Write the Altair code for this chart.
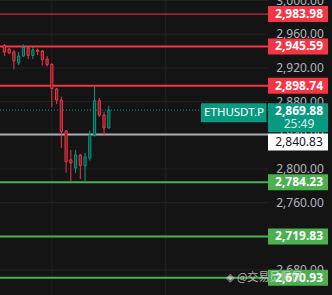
import altair as alt
import pandas as pd

# ---- data ----
t = list(range(23))
opens = [2946.7, 2942.5, 2938.9, 2925.9, 2934.2, 2943.7, 2934.8, 2941.3, 2940.1, 2930.6, 2924.1, 2895.0,
         2881.9, 2845.1, 2810.7, 2801.2, 2816.6, 2803.6, 2813.1, 2840.4, 2881.1, 2864.1, 2848.7]
highs = [2948.4, 2943.7, 2941.3, 2938.9, 2947.9, 2944.9, 2944.9, 2943.1, 2941.3, 2934.2, 2925.9, 2896.2,
         2885.9, 2846.3, 2822.6, 2822.6, 2817.8, 2819.0, 2845.5, 2897.7, 2884.3, 2868.0, 2874.8]
lows = [2934.2, 2936.6, 2918.2, 2923.5, 2933.0, 2930.6, 2930.6, 2935.4, 2922.9, 2921.7, 2873.6, 2877.2,
        2824.9, 2795.6, 2784.9, 2795.2, 2788.1, 2784.9, 2809.9, 2838.4, 2861.7, 2839.2, 2848.1]
closes = [2938.9, 2937.8, 2928.3, 2934.2, 2944.3, 2934.8, 2941.3, 2939.5, 2930.0, 2924.1, 2895.6, 2881.9,
          2844.3, 2808.7, 2807.1, 2816.6, 2804.2, 2814.3, 2840.4, 2881.1, 2864.1, 2848.7, 2869.88]

tick_values = [3000, 2960, 2920, 2880, 2840, 2800, 2760, 2720, 2680]
vgrid_t = [10, 34]

red_levels = [2983.98, 2945.59, 2898.74]
green_levels = [2784.23, 2719.83, 2670.93]
grey_level = [2840.83]
current_price = [2869.88]
symbol = "ETHUSDT.P"
countdown = "25:49"
watermark = "◈ @交易员佩佩"

# ---- styling ----
BG = "#141414"
GRID = "#232323"
RED = "#f23645"
RED_FILL = "#6e1e26"
GREEN_C = "#089981"
GREEN_FILL = "#06463c"
LVL_GREEN = "#4caf50"
TEAL = "#089981"
TXT = "#b2b5be"
FONT = "Noto Sans"

W, H = 332, 295
PLOT_R = 268

X = alt.Scale(domain=[0.12, 68.01], nice=False, zero=False)
Y = alt.Scale(domain=[2650.3, 3000.7], nice=False, zero=False)

candles = pd.DataFrame(dict(t=t, open=opens, high=highs, low=lows, close=closes))
ticks = pd.DataFrame(dict(price=tick_values))
vgrid = pd.DataFrame(dict(t=vgrid_t))
reds = pd.DataFrame(dict(price=red_levels))
greens = pd.DataFrame(dict(price=green_levels))
grey = pd.DataFrame(dict(price=grey_level))
cur = pd.DataFrame(dict(price=current_price))

yq = lambda: alt.Y("price:Q", scale=Y, axis=None)

hgrid = alt.Chart(ticks).mark_rule(color=GRID, strokeWidth=1).encode(
    y=yq(), x=alt.value(0), x2=alt.value(PLOT_R))
vg = alt.Chart(vgrid).mark_rule(color=GRID, strokeWidth=1).encode(
    x=alt.X("t:Q", scale=X, axis=None), y=alt.value(0), y2=alt.value(H))
tick_text = alt.Chart(ticks).mark_text(color=TXT, fontSize=12, font=FONT, align="center", baseline="middle").encode(
    y=yq(), x=alt.value(300), text=alt.Text("price:Q", format=",.2f"))

red_lines = alt.Chart(reds).mark_rule(color=RED).encode(
    y=yq(), x=alt.value(0), x2=alt.value(PLOT_R),
    strokeWidth=alt.condition("datum.price > 2970", alt.value(1), alt.value(2)))
green_lines = alt.Chart(greens).mark_rule(color=LVL_GREEN, strokeWidth=2).encode(
    y=yq(), x=alt.value(0), x2=alt.value(PLOT_R))
grey_line = alt.Chart(grey).mark_rule(color="#a9acb3", strokeWidth=2).encode(
    y=yq(), x=alt.value(0), x2=alt.value(PLOT_R))
cur_line = alt.Chart(cur).mark_rule(color=TEAL, strokeWidth=1, strokeDash=[1, 2]).encode(
    y=yq(), x=alt.value(0), x2=alt.value(PLOT_R))

up = "datum.close >= datum.open"
wicks = alt.Chart(candles).mark_rule(strokeWidth=1).encode(
    x=alt.X("t:Q", scale=X, axis=None),
    y=alt.Y("low:Q", scale=Y, axis=None), y2="high:Q",
    color=alt.condition(up, alt.value(GREEN_C), alt.value(RED)))
bodies = alt.Chart(candles).mark_bar(size=2.2, strokeWidth=1).encode(
    x=alt.X("t:Q", scale=X, axis=None),
    y=alt.Y("open:Q", scale=Y, axis=None), y2="close:Q",
    fill=alt.condition(up, alt.value(GREEN_FILL), alt.value(RED_FILL)),
    stroke=alt.condition(up, alt.value(GREEN_C), alt.value(RED)))

def box(df, color, sw, yoff=0):
    return alt.Chart(df).mark_rule(color=color, strokeWidth=sw, strokeCap="butt", yOffset=yoff).encode(
        y=yq(), x=alt.value(PLOT_R), x2=alt.value(328))

def label(df, color, yoff=0, bold=True, size=12):
    return alt.Chart(df).mark_text(color=color, fontSize=size, font=FONT, fontWeight="bold" if bold else "normal",
                                   align="center", baseline="middle", yOffset=yoff).encode(
        y=yq(), x=alt.value(299), text=alt.Text("price:Q", format=",.2f"))

red_box = box(reds, RED, 16)
green_box = box(greens, LVL_GREEN, 16)
white_box = box(grey, "#ffffff", 17, 7.5)
teal_box = box(cur, TEAL, 29, 7.5)

red_lbl = label(reds, "#ffffff")
green_lbl = label(greens, "#ffffff")
white_lbl = label(grey, "#131722", 7.5, bold=False)
cur_lbl = label(cur, "#ffffff", 1)
cd_lbl = alt.Chart(cur).mark_text(color="#d8f2ec", fontSize=12, font=FONT, align="center",
                                  baseline="middle", yOffset=14).encode(
    y=yq(), x=alt.value(299), text=alt.value(countdown))

sym_box = alt.Chart(cur).mark_rule(color=TEAL, strokeWidth=19, strokeCap="butt", yOffset=2.5).encode(
    y=yq(), x=alt.value(201), x2=alt.value(266.5))
sym_lbl = alt.Chart(cur).mark_text(color="#ffffff", fontSize=11.5, font=FONT, align="center",
                                   baseline="middle", yOffset=2.5).encode(
    y=yq(), x=alt.value(234), text=alt.value(symbol))

wm = alt.Chart(greens.tail(1)).mark_text(color="#e0e0e0", opacity=0.75, fontSize=11,
                                          font="Noto Sans CJK SC, DejaVu Sans", align="left",
                                          baseline="middle").encode(
    y=yq(), x=alt.value(226), text=alt.value(watermark))

chart = alt.layer(
    hgrid, vg, tick_text,
    red_lines, green_lines, grey_line, cur_line,
    wicks, bodies,
    red_box, green_box, white_box, teal_box,
    red_lbl, green_lbl, white_lbl, cur_lbl, cd_lbl,
    sym_box, sym_lbl, wm,
).properties(
    width=W, height=H, padding=0, autosize=alt.AutoSizeParams(type="none"), background=BG
).configure_view(stroke=None)

chart.save("out.html", embed_options={"renderer": "svg", "actions": False})
